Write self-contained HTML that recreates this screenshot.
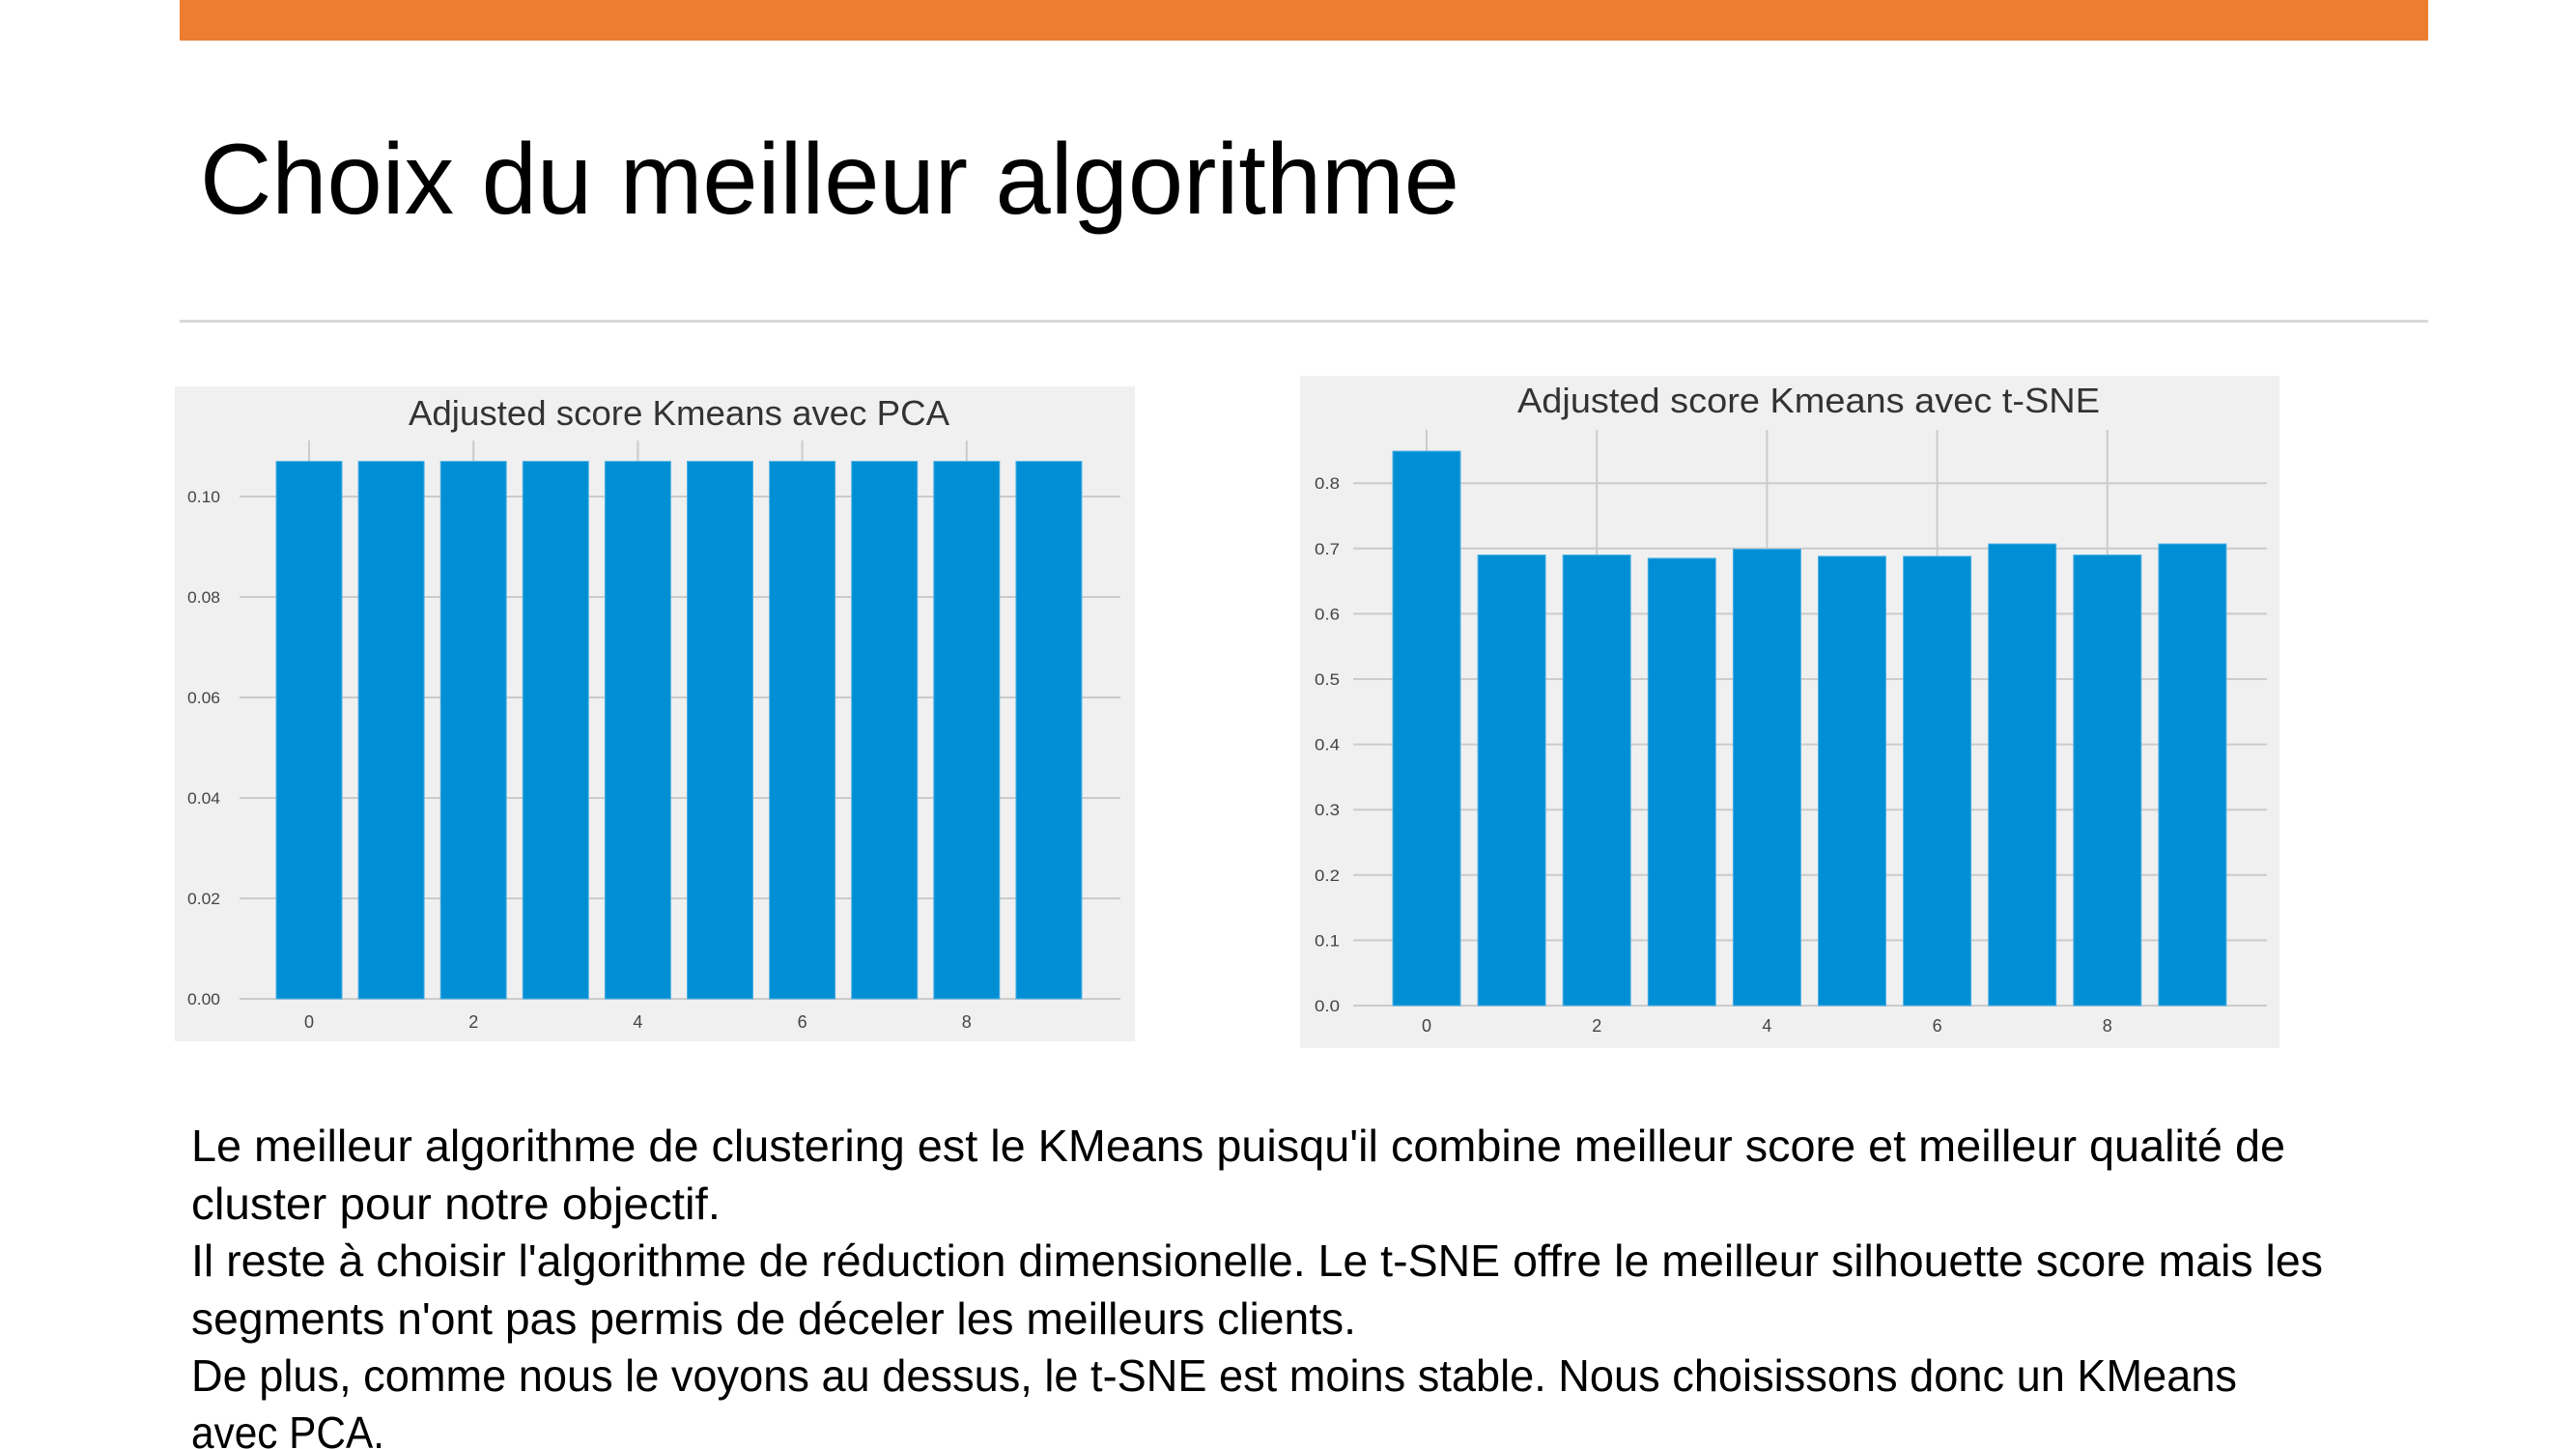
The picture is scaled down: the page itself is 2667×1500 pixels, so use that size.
<!DOCTYPE html>
<html><head><meta charset="utf-8"><style>
html,body{margin:0;padding:0;background:#fff;}
svg{display:block;}
</style></head><body>
<svg id="slide" width="2667" height="1500" viewBox="0 0 2667 1500" xmlns="http://www.w3.org/2000/svg" font-family="Liberation Sans, sans-serif">
<rect x="186" y="0" width="2328" height="42" fill="#ed7d31"/>
<text x="207" y="221" font-size="104" textLength="1304" lengthAdjust="spacingAndGlyphs" fill="#000">Choix du meilleur algorithme</text>
<rect x="186" y="331" width="2328" height="3" fill="#d9d9d9"/>
<g id="chart1"></g>
<g id="chart2"></g>
<g font-size="46" fill="#000">
<text x="198" y="1202" textLength="2168" lengthAdjust="spacingAndGlyphs">Le meilleur algorithme de clustering est le KMeans puisqu'il combine meilleur score et meilleur qualité de</text>
<text x="198" y="1262" textLength="548" lengthAdjust="spacingAndGlyphs">cluster pour notre objectif.</text>
<text x="198" y="1321" textLength="2207" lengthAdjust="spacingAndGlyphs">Il reste à choisir l'algorithme de réduction dimensionelle. Le t-SNE offre le meilleur silhouette score mais les</text>
<text x="198" y="1381" textLength="1206" lengthAdjust="spacingAndGlyphs">segments n'ont pas permis de déceler les meilleurs clients.</text>
<text x="198" y="1440" textLength="2118" lengthAdjust="spacingAndGlyphs">De plus, comme nous le voyons au dessus, le t-SNE est moins stable. Nous choisissons donc un KMeans</text>
<text x="198" y="1499" textLength="200" lengthAdjust="spacingAndGlyphs">avec PCA.</text>
</g>
</svg>
<script>
const pcaCategories = [0,1,2,3,4,5,6,7,8,9];
const pcaValues = [0.107,0.107,0.107,0.107,0.107,0.107,0.107,0.107,0.107,0.107];
const pcaYTicks = [0,0.02,0.04,0.06,0.08,0.10];
const pcaYLabels = ["0.00","0.02","0.04","0.06","0.08","0.10"];
const pcaXTicks = [0,2,4,6,8];

const tsneCategories = [0,1,2,3,4,5,6,7,8,9];
const tsneValues = [0.849,0.690,0.690,0.685,0.699,0.688,0.688,0.707,0.690,0.707];
const tsneYTicks = [0,0.1,0.2,0.3,0.4,0.5,0.6,0.7,0.8];
const tsneYLabels = ["0.0","0.1","0.2","0.3","0.4","0.5","0.6","0.7","0.8"];
const tsneXTicks = [0,2,4,6,8];

const NS = "http://www.w3.org/2000/svg";
function mk(tag, attrs, parent){
  const e = document.createElementNS(NS, tag);
  for (const k in attrs) e.setAttribute(k, attrs[k]);
  parent.appendChild(e);
  return e;
}
function drawChart(g, cfg, cats, vals, yTicks, yLabels, xTicks){
  const y = v => cfg.y0 - v * cfg.yPerUnit;
  const x = c => cfg.x0 + c * cfg.pitch;
  const bg = mk('rect', {x:cfg.px, y:cfg.py, width:cfg.pw, height:cfg.ph, fill:'#f0f0f0'}, g);
  
  
  const t = mk('text', {x:cfg.tx, y:cfg.ty, 'font-size':36, fill:'#333', textLength:cfg.tw, lengthAdjust:'spacingAndGlyphs'}, g);
  t.textContent = cfg.title;
  
  
  yTicks.forEach((v, i) => {
    const l = mk('line', {x1:cfg.gx1, x2:cfg.gx2, y1:y(v), y2:y(v), stroke:'#cbcbcb', 'stroke-width':2}, g);
    
    
    const tl = mk('text', {x:cfg.ylx, y:y(v)+6, 'font-size':17, fill:'#444', textLength:cfg.ylw, lengthAdjust:'spacingAndGlyphs'}, g);
    tl.textContent = yLabels[i];
    
    
  });
  xTicks.forEach(c => {
    const l = mk('line', {x1:x(c), x2:x(c), y1:cfg.vgTop, y2:y(0), stroke:'#cbcbcb', 'stroke-width':2}, g);
    
    
    const tl = mk('text', {x:x(c), y:cfg.xly, 'font-size':18, fill:'#444', 'text-anchor':'middle'}, g);
    tl.textContent = String(c);
    
    
  });
  cats.forEach((c, i) => {
    const b = mk('rect', {x:x(c)-cfg.bw/2, y:y(vals[i]), width:cfg.bw, height:y(0)-y(vals[i]), fill:'#008fd5', stroke:'#4db0e3', 'stroke-width':1}, g);
    
    
  });
}
drawChart(document.getElementById('chart1'), {
  px:181, py:400, pw:994, ph:678, y0:1034, yPerUnit:5200, x0:320, pitch:85.1, bw:68,
  gx1:248, gx2:1160, vgTop:456, ylx:194, ylw:34, xly:1064,
  tx:423, ty:440, tw:560, title:'Adjusted score Kmeans avec PCA'
}, pcaCategories, pcaValues, pcaYTicks, pcaYLabels, pcaXTicks);
drawChart(document.getElementById('chart2'), {
  px:1346, py:389, pw:1014, ph:696, y0:1041, yPerUnit:676, x0:1477, pitch:88.1, bw:70,
  gx1:1401, gx2:2347, vgTop:445, ylx:1361, ylw:26, xly:1068,
  tx:1571, ty:427, tw:603, title:'Adjusted score Kmeans avec t-SNE'
}, tsneCategories, tsneValues, tsneYTicks, tsneYLabels, tsneXTicks);
</script>
</body></html>
